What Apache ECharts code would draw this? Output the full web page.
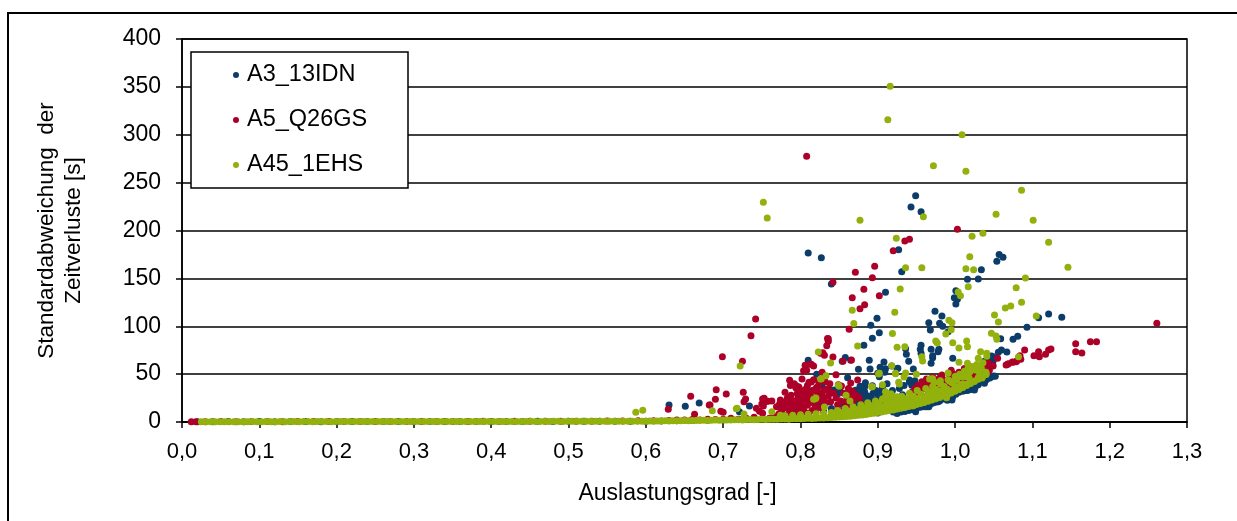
<!DOCTYPE html>
<html>
<head>
<meta charset="utf-8">
<script src="https://cdn.jsdelivr.net/npm/echarts@6/dist/echarts.min.js"></script>
<style>
  html, body { margin: 0; padding: 0; background: #fff; }
  #chart { width: 1237px; height: 521px; }
</style>
</head>
<body>
<div id="chart"></div>
<script>
// Axis ticks
const xTickLabels = ['0,0','0,1','0,2','0,3','0,4','0,5','0,6','0,7','0,8','0,9','1,0','1,1','1,2','1,3'];
const yTickValues = [0, 50, 100, 150, 200, 250, 300, 350, 400];
const seriesNames = ['A3_13IDN', 'A5_Q26GS', 'A45_1EHS'];

// A3_13IDN: low-load band and the rising part of the curve
const a3Band = [
  [0.02,0.3],[0.04,0.3],[0.06,0.4],[0.08,0.3],[0.10,0.4],[0.12,0.3],[0.14,0.4],[0.16,0.4],[0.18,0.3],[0.20,0.4],
  [0.22,0.4],[0.24,0.5],[0.26,0.4],[0.28,0.5],[0.30,0.4],[0.32,0.5],[0.34,0.5],[0.36,0.6],[0.38,0.5],[0.40,0.6],
  [0.42,0.6],[0.44,0.6],[0.46,0.7],[0.48,0.6],[0.50,0.7],[0.52,0.7],[0.54,0.8],[0.56,0.8],[0.58,0.9],[0.60,0.9],
  [0.62,1.0],[0.64,1.2],[0.66,1.5],[0.68,1.8],[0.70,2.2],[0.72,2.6],[0.74,3.0],[0.76,3.5],[0.78,4.0],[0.80,4.8],
  [0.82,5.5],[0.84,6.5],[0.86,7.5],[0.88,8.5],[0.90,9.5],[0.92,10.5],
  [0.925,9],[0.93,10.5],[0.935,11],[0.94,12],[0.945,13],[0.95,14],[0.955,15.5],[0.96,16],[0.965,18],[0.97,19.5],
  [0.975,21],[0.98,22],[0.985,24],[0.99,26],[0.995,28],[1.0,30],[1.005,31],[1.01,32],[1.015,33],[1.02,35],
  [1.025,37],[1.03,39],[1.035,42],[1.04,44],[1.045,46],[1.05,48]
];
// A3_13IDN: scattered points
const a3Cloud = [
  [0.810,176.5],[0.827,171.6],[0.840,144],[0.949,236.4],[0.943,224.5],[0.956,219.7],[0.927,180],[1.057,175],[1.062,172],[1.054,168],
  [1.034,159],[0.931,157],[1.016,149],[1.030,149.3],[0.910,135.4],[1.001,137.1],[0.999,129.8],[1.003,128.1],[1.001,123.2],[0.974,115.6],
  [0.983,110.7],[1.093,98.9],[1.108,108.9],[1.121,112.8],[1.138,109.3],[0.899,108.3],[0.891,101],[0.902,93.3],[0.893,87.4],[0.966,103.7],
  [0.968,96.1],[0.980,103.1],[0.984,99.9],[0.991,94.3],[1.059,87],[1.075,86.4],[1.081,89.6],[0.882,80.1],[0.936,76.6],[0.937,70.7],
  [0.940,63.4],[0.956,80.1],[0.955,75.9],[0.956,71.7],[0.969,75.9],[0.971,67.2],[0.978,73.4],[0.979,75.9],[0.969,61.3],[0.971,69.2],
  [0.997,66.5],[1.060,75.2],[1.056,72.8],[1.067,73.1],[1.047,68.9],[1.043,64.8],[1.049,63],[1.044,66.1],[1.049,68.2],[1.045,61.9],
  [1.038,63.4],[0.810,64.4],[0.858,67.4],[0.854,63.4],[0.865,64.4],[0.889,64.4],[0.890,55.4],[0.908,62.7],[0.910,55.7],[0.903,57.1],
  [0.918,58.5],[0.925,55.7],[0.875,55],[0.909,51.9],[0.900,50.9],[0.821,49.8],[0.861,46.3],[0.902,47.3],[0.926,56.1],[0.946,55.4],
  [0.948,43.1],[0.941,42.1],[0.944,38.3],[0.941,43.9],[0.795,37.6],[0.871,33.1],[0.878,36.9],[0.879,28.5],[0.893,37.9],[0.903,31.3],
  [0.883,36.9],[0.877,32.7],[0.897,32.7],[0.894,30],[0.890,26.8],[0.901,26.8],[0.904,28.5],[0.915,20.6],[0.926,25.8],[0.932,28.5],
  [0.936,12.5],[0.949,10.8],[0.951,17.8],[0.963,16],[0.966,16],[0.977,21.2],[0.986,27.2],[0.990,22.7],[1.001,28.9],[1.000,31.6],
  [1.005,34.5],[0.963,37.9],[0.972,34.1],[0.967,17.8],[0.972,20.2],[0.978,21.2],[0.991,27.9],[0.997,26.4],[0.996,23],[1.016,33.1],
  [1.019,33.7],[1.026,36.2],[1.016,35.2],[1.026,41],[1.025,33.4],[1.037,42.1],[1.041,44.6],[1.047,47.3],[1.052,47.7],[1.036,45.6],
  [1.038,40.4],[1.032,55],[1.037,47.3],[0.734,16.7],[0.669,19.8],[0.630,17.8],[0.651,16.4],[0.721,10.8],[0.782,21.9],[0.828,38.6],
  [0.839,33.1],[0.848,28.9],[0.844,33.4],[0.850,36.6],[0.851,32.4],[0.865,32.4],[0.859,29.2],[0.877,37.3],[0.883,31.6],[0.896,31.3],
  [0.898,32.7],[0.889,25.1],[0.886,27.5],[0.883,23],[0.869,25.8],[0.877,21.2],[0.865,21.2],[0.874,22.2],[0.890,21.2],[0.893,23.7],
  [0.821,16.7],[0.825,16],[0.79,9],[0.80,12],[0.81,8],[0.83,11],[0.84,14],[0.855,12],[0.86,16],[0.87,14],
  [0.88,17],[0.895,15],[0.905,17],[0.915,13],[0.92,16],[0.93,14],[0.94,18],[0.945,15],[0.955,20],[0.96,22],
  [0.852,19],[0.862,24],[0.871,18],[0.884,41],[0.906,36],[0.912,40],[0.919,33],[0.928,35],[0.934,38],[0.953,33]
];

// A5_Q26GS: low-load band
const a5Band = [
  [0.012,0.3],[0.018,0.3],[0.03,0.3],[0.05,0.4],[0.07,0.3],[0.09,0.4],[0.11,0.4],[0.13,0.3],[0.15,0.4],[0.17,0.4],
  [0.19,0.5],[0.21,0.4],[0.23,0.5],[0.25,0.4],[0.27,0.5],[0.29,0.5],[0.31,0.6],[0.33,0.5],[0.35,0.6],[0.37,0.6],
  [0.39,0.7],[0.41,0.6],[0.43,0.7],[0.45,0.7],[0.47,0.8],[0.49,0.8],[0.51,0.9],[0.53,0.9],[0.55,1.0],[0.57,1.1],
  [0.59,1.2],[0.61,1.3],[0.630,1.5],[0.640,2],[0.650,2],[0.660,2.5],[0.670,2],[0.680,3],[0.690,2.5],[0.700,3],
  [0.710,4],[0.720,3],[0.730,4],[0.740,5],[0.760,4],[0.765,6],[0.775,5],[0.780,6],[0.785,9],[0.790,7],
  [0.795,10],[0.800,8],[0.805,11],[0.810,9],[0.815,12],[0.820,10],[0.84,10],[0.85,12],[0.86,15],[0.87,13],
  [0.88,18],[0.89,16],[0.90,20],[0.91,22]
];
// A5_Q26GS: scattered points
const a5Cloud = [
  [0.808,277.5],[0.871,156.3],[0.842,146],[1.003,201.2],[0.941,190.8],[0.935,189],[0.920,178.9],[0.896,162.6],[0.893,150.7],[0.882,138.6],
  [0.902,131.9],[0.867,129.8],[0.883,122.5],[0.877,118.3],[0.863,96.8],[0.836,87],[0.742,107.6],[0.736,90.1],[1.261,103.1],[1.156,81.8],
  [1.156,73.4],[1.164,72.1],[1.175,83.9],[1.183,83.9],[1.102,69.2],[1.108,73.4],[1.109,68.2],[1.117,70.7],[1.121,75.2],[1.124,76.2],
  [1.090,75.2],[1.084,69.2],[1.079,63],[1.074,62.7],[1.068,60.3],[1.085,65.5],[1.080,64],[1.075,62.3],[1.069,60.9],[1.066,59.5],
  [1.055,66.5],[1.049,58.8],[1.043,61.3],[1.044,53.6],[1.029,58.5],[1.032,56.7],[1.035,59.5],[1.042,60.3],[1.044,54],[1.049,58.5],
  [1.038,55],[1.032,54.3],[1.024,53.3],[1.028,56.1],[1.019,55.4],[0.996,47.3],[1.002,48.8],[1.008,47.3],[1.016,47.3],[1.023,48.8],
  [1.022,44.9],[0.997,42.1],[1.004,45.2],[1.012,43.9],[1.019,43.9],[1.025,43.6],[1.028,45.2],[0.967,36.2],[0.972,31.6],[0.978,34.1],
  [0.987,35.8],[0.988,31],[0.974,37.6],[0.965,33.4],[0.969,36.2],[0.976,39.4],[0.981,39.7],[0.987,37.6],[0.992,38.6],[0.961,34.8],
  [0.984,33.4],[0.955,30],[0.958,36],[0.962,40],[0.968,42],[0.975,44],[0.980,46],[0.985,44],[0.990,42],[0.993,46],
  [0.998,50],[1.000,45],[1.005,52],[1.010,50],[1.015,52],[1.000,38],[0.990,30],[0.978,28],[0.950,28],[0.945,25],
  [0.940,22],[0.935,24],[0.930,20],[0.925,22],[0.920,18],
  [0.699,68.2],[0.725,63.4],[0.826,71.7],[0.829,72.4],[0.831,69.7],[0.842,67.9],[0.806,59.2],[0.812,60.3],[0.817,58.5],[0.855,63.4],
  [0.866,64.8],[0.805,53.3],[0.808,54],[0.804,53.6],[0.814,60.3],[0.831,48],[0.846,49.4],[0.874,43.9],[0.865,40.7],[0.864,31.6],
  [0.786,43.5],[0.780,31],[0.798,36.6],[0.794,35.8],[0.811,41.5],[0.814,41.8],[0.805,30.3],[0.811,31.6],[0.801,27.5],[0.796,30],
  [0.799,31.6],[0.822,36.9],[0.821,32.4],[0.834,34.1],[0.837,32.4],[0.849,39],[0.853,37.6],[0.867,32],[0.866,27.2],[0.691,33.7],
  [0.690,23.7],[0.704,29.2],[0.726,31],[0.729,24],[0.727,21.2],[0.751,24],[0.758,21.6],[0.750,18.8],[0.774,23],[0.781,21.2],
  [0.773,18.8],[0.682,17.8],[0.697,11.2],[0.700,10.1],[0.835,87.2],[0.836,84.3],[0.834,79.7],[0.658,26.8],[0.629,13.3],[0.683,17.8],
  [0.663,8],[0.743,14.3],[0.753,24.8],[0.756,21.6],[0.752,16.7],[0.763,21.9],[0.747,11.2],[0.751,9.1],[0.769,16],[0.775,12.5],
  [0.772,8.4],[0.799,28.9],[0.805,22.2],[0.818,20.9],[0.809,17.4],[0.795,16.7],[0.802,13.3],[0.791,11.2],[0.820,35.2],[0.823,37.6],
  [0.828,27.9],[0.828,51.9],[0.860,24],[0.839,21.2],[0.828,22.2],[0.785,14],[0.790,18],[0.800,20],[0.810,24],[0.783,25],
  [0.788,28],[0.792,22],[0.797,25],[0.803,19],[0.807,26],[0.813,28],[0.816,24],[0.822,27],[0.826,30],[0.830,25],
  [0.833,20],[0.787,38],[0.792,40],[0.802,45],[0.817,44],[0.824,42],
  [0.776,10],[0.779,15],[0.782,19],[0.786,22],[0.789,12],[0.793,15],[0.796,20],[0.799,24],[0.804,16],[0.806,34],
  [0.809,38],[0.812,20],[0.815,33],[0.819,17],[0.823,22],[0.827,15],[0.830,33],[0.832,42],[0.836,27],[0.838,40],
  [0.843,30],[0.846,25],[0.848,18],[0.852,22],[0.856,30],[0.858,20],[0.862,35],[0.868,22],[0.872,28],[0.876,25],
  [0.944,31],[0.948,35],[0.952,38],[0.957,42],[0.963,45],[0.971,47],[0.983,49],[0.995,54],[1.012,56],[1.006,44]
];

// A45_1EHS: low-load band and the dense rising curve
const a45Band = [
  [0.025,0.2],[0.031,0.3],[0.037,0.2],[0.043,0.3],[0.049,0.3],[0.055,0.2],[0.061,0.3],[0.067,0.3],[0.073,0.2],[0.079,0.3],
  [0.085,0.3],[0.091,0.4],[0.097,0.3],[0.103,0.3],[0.109,0.4],[0.115,0.3],[0.121,0.3],[0.127,0.4],[0.133,0.3],[0.139,0.4],
  [0.145,0.4],[0.151,0.3],[0.157,0.4],[0.163,0.4],[0.169,0.3],[0.175,0.4],[0.181,0.4],[0.187,0.4],[0.193,0.3],[0.199,0.4],
  [0.205,0.4],[0.211,0.5],[0.217,0.4],[0.223,0.4],[0.229,0.5],[0.235,0.4],[0.241,0.4],[0.247,0.5],[0.253,0.4],[0.259,0.5],
  [0.265,0.5],[0.271,0.4],[0.277,0.5],[0.283,0.5],[0.289,0.4],[0.295,0.5],[0.301,0.5],[0.307,0.5],[0.313,0.4],[0.319,0.5],
  [0.325,0.5],[0.331,0.6],[0.337,0.5],[0.343,0.5],[0.349,0.6],[0.355,0.5],[0.361,0.5],[0.367,0.6],[0.373,0.5],[0.379,0.6],
  [0.385,0.6],[0.391,0.5],[0.397,0.6],[0.403,0.6],[0.409,0.5],[0.415,0.6],[0.421,0.6],[0.427,0.6],[0.433,0.5],[0.439,0.6],
  [0.445,0.6],[0.451,0.7],[0.457,0.6],[0.463,0.6],[0.469,0.7],[0.475,0.6],[0.481,0.7],[0.487,0.7],[0.493,0.6],[0.499,0.7],
  [0.505,0.7],[0.511,0.7],[0.517,0.8],[0.523,0.7],[0.529,0.7],[0.535,0.8],[0.541,0.7],[0.547,0.8],[0.553,0.8],[0.559,0.7],
  [0.565,0.8],[0.571,0.8],[0.577,0.9],[0.583,0.8],[0.589,0.9],[0.595,0.8],
  [0.600,0.9],[0.605,1.0],[0.610,0.8],[0.615,1.1],[0.620,1.0],[0.625,1.2],[0.630,1.1],[0.635,1.3],[0.640,1.2],[0.645,1.4],
  [0.650,1.5],[0.655,1.3],[0.660,1.6],[0.665,1.5],[0.670,1.7],[0.675,1.8],[0.680,1.6],[0.685,1.9],[0.690,2.0],[0.695,1.8],
  [0.700,2.1],[0.705,2.2],[0.710,2.0],[0.715,2.3],[0.720,2.4],[0.725,2.2],[0.730,2.5],[0.735,2.6],[0.740,2.4],[0.745,2.7],
  [0.750,2.8],[0.755,2.6],[0.760,2.9],[0.765,3.0],[0.770,2.8],[0.775,3.1],[0.780,3.2],[0.785,3.0],[0.790,3.3],[0.795,3.5],
  [0.800,3.4],[0.805,3.6],[0.810,3.8],[0.815,3.7],[0.820,4.0],[0.825,4.2],[0.830,4.1],[0.835,4.4],[0.840,4.6],[0.845,4.9],
  [0.850,5.1],[0.855,5.4],[0.860,5.8],[0.865,6.1],[0.870,6.5],[0.875,7.0],[0.880,7.4],[0.885,7.9],[0.890,8.5],[0.895,9.1],
  [0.900,9.8],[0.905,10.4],[0.910,11.1],[0.915,11.9],[0.920,12.6],[0.925,13.5],[0.930,14.3],[0.935,15.2],[0.940,16.2],[0.945,17.1],
  [0.950,18.2],[0.955,19.2],[0.960,20.4],[0.965,21.6],[0.970,22.9],[0.975,24.2],[0.980,25.6],[0.985,27.1],[0.990,28.7],[0.995,30.4],
  [1.000,32.2],[1.005,34.0],[1.010,36.0],[1.015,38.0],[1.020,40.1],[1.025,42.3],[1.030,44.6],[1.035,47.0],[1.040,49.5],
  [0.78,6.5],[0.79,7],[0.80,7.5],[0.81,8],[0.82,8.6],[0.83,9.2],[0.84,9.8],[0.85,10.5],[0.86,11.5],[0.87,12.4],
  [0.88,13.6],[0.89,14.8],[0.90,16.2],[0.91,17.6],[0.92,19.2],[0.93,20.9],[0.94,22.7],[0.95,24.6],[0.96,26.8],[0.97,29.1],
  [0.98,31.6],[0.99,34.2],[1.00,37.0],[1.01,40.0],[1.02,43.2],[1.03,46.5],[1.04,50.0],
  [0.855,8.2],[0.865,9.4],[0.875,10.3],[0.885,11.8],[0.895,12.8],[0.905,14.0],[0.915,15.3],[0.925,16.8],[0.935,18.4],[0.945,20.0],
  [0.955,21.9],[0.965,24.0],[0.975,26.5],[0.985,29.2],[0.995,32.5],[1.005,35.8],[1.015,39.4],[1.025,42.8],[1.035,46.0],
  [0.842,8],[0.848,12],[0.853,9],[0.858,14],[0.862,11],[0.868,16],[0.872,13],[0.878,18],[0.882,15],[0.887,20],
  [0.892,17],[0.897,22],[0.902,19],[0.906,24],[0.912,21],[0.916,18],[0.921,24],[0.927,21],[0.931,27],[0.936,24],
  [0.941,30],[0.946,27],[0.951,33],[0.956,29],[0.962,35],[0.966,31],[0.971,37],[0.976,34],[0.981,40],[0.986,37],
  [0.991,44],[0.996,41],[1.002,44],[1.006,50],[1.012,53],[1.022,58],[1.028,60],[1.036,62]
];
// A45_1EHS: scattered points
const a45Cloud = [
  [0.916,350.6],[0.913,315.7],[1.009,300],[0.972,267.7],[1.014,262],[1.086,242],[1.053,217],[1.101,210.6],[0.959,214.4],[0.877,210.6],
  [1.022,194],[1.036,197],[0.924,192],[1.121,187.7],[1.019,172.6],[0.936,161],[0.957,161],[1.014,160],[1.024,159],[1.146,161.6],
  [0.752,229.4],[0.757,213],[1.091,150.4],[0.929,138.9],[1.004,135.8],[1.007,131.9],[1.079,140.3],[1.017,141.3],[1.086,125],[1.072,121.1],
  [1.065,119],[0.867,116.7],[0.922,114.6],[1.051,111.7],[1.056,104.4],[1.105,110.7],[0.869,103],[0.992,106.2],[0.996,103.7],[0.995,96.4],
  [0.988,91.9],[0.919,92.4],[1.047,92.6],[1.053,89.8],[1.054,86.4],[0.874,79.4],[0.925,78],[0.935,78.6],[0.975,84.6],[0.977,82.5],
  [0.997,82.8],[1.005,77.3],[1.015,84.6],[1.016,78.6],[0.957,68.2],[0.958,63.7],[1.005,62.3],[1.016,61.3],[1.017,57.1],[1.030,66.5],
  [1.033,73.4],[1.041,71.7],[1.041,68.6],[1.082,68.2],[0.722,58.5],[0.823,73.1],[0.839,61.6],[0.827,45.2],[0.826,44.9],[0.833,48.4],
  [0.918,58.8],[0.901,50.1],[0.906,39],[0.923,50.4],[0.934,47],[0.928,39.7],[0.950,49.8],[0.936,51.2],[0.927,41.5],[0.902,50.9],
  [0.893,36.9],[0.970,44.9],[0.973,41.5],[0.971,45.2],[0.981,43.1],[0.991,51.2],[1.000,47.3],[1.008,48],[1.014,47.3],[1.026,54.3],
  [1.025,55.4],[1.031,52.5],[1.034,56.1],[1.018,55],[1.019,52.2],[1.040,51.9],[1.001,47.7],[1.009,47.3],[1.018,46.3],[0.993,42.5],
  [1.007,39],[1.009,36.6],[0.973,24.8],[0.983,32.7],[0.989,25.4],[0.967,44.9],[0.686,11.8],[0.717,13.9],[0.587,10.1],[0.596,12.2],
  [0.718,14.3],[0.763,10.8],[0.727,8.4],[0.774,7],[0.817,23.7],[0.820,25.1],[0.819,24.3],[0.831,15.7],[0.850,37.3],[0.849,38.3],
  [0.859,27.9],[0.864,21.9],[0.883,14.3],[0.892,36.9],[0.910,31.6],[0.915,28.5],[0.912,28.2],[0.914,25.8],[0.909,25.4],[0.918,21.6],
  [0.924,23],[0.924,13.9],[0.938,23],[0.946,17],[0.955,20.2],[0.961,25.4],[0.960,21.2],[0.969,25.4],[0.974,28.5],[0.982,32.4],
  [0.978,27.9],[0.991,29.6],[0.970,32.4],[0.911,27.9],[0.917,29.6],[0.924,26.4],[0.923,50.9]
];

const seriesColors = ['#0b3c6a', '#ad0029', '#93b10c'];
const seriesData = [
  a3Band.concat(a3Cloud),
  a5Band.concat(a5Cloud),
  a45Band.concat(a45Cloud)
];

const FONT = '"Liberation Sans", Arial, Helvetica, sans-serif';
const chart = echarts.init(document.getElementById('chart'), null, { renderer: 'canvas' });

chart.setOption({
  animation: false,
  backgroundColor: '#fff',
  textStyle: { fontFamily: FONT, color: '#000' },
  grid: {
    left: 182, right: 50, top: 39, bottom: 99,
    show: true, borderColor: '#000', borderWidth: 1.5, backgroundColor: 'transparent'
  },
  graphic: [
    {
      type: 'rect', silent: true, z: 0,
      shape: { x: 8, y: 13, width: 1300, height: 600 },
      style: { fill: 'none', stroke: '#000', lineWidth: 2 }
    },
    {
      type: 'rect', silent: true, z: 5,
      shape: { x: 191, y: 52, width: 217, height: 136 },
      style: { fill: '#fff', stroke: '#000', lineWidth: 1.5 }
    }
  ],
  legend: {
    z: 10,
    orient: 'vertical',
    left: 233, top: 62,
    padding: 0,
    itemGap: 19,
    itemWidth: 6, itemHeight: 6,
    icon: 'circle',
    selectedMode: false,
    data: seriesNames,
    textStyle: { fontFamily: FONT, fontSize: 23.5, color: '#000', lineHeight: 26, padding: [0, 0, 0, 3] }
  },
  xAxis: {
    type: 'value',
    min: 0, max: 1.3, interval: 0.1,
    name: 'Auslastungsgrad [-]',
    nameLocation: 'middle',
    nameGap: 60,
    nameTextStyle: { fontFamily: FONT, fontSize: 23, color: '#000', padding: [0, 14, 0, 0] },
    axisLine: { show: true, onZero: false, lineStyle: { color: '#000', width: 1.5 } },
    axisTick: { show: true, inside: false, length: 6, lineStyle: { color: '#000', width: 1.5 } },
    splitLine: { show: false },
    axisLabel: {
      fontFamily: FONT, fontSize: 22, color: '#000', margin: 19,
      formatter: function (v) { return xTickLabels[Math.round(v * 10)]; }
    }
  },
  yAxis: {
    type: 'value',
    min: yTickValues[0], max: yTickValues[yTickValues.length - 1], interval: 50,
    name: 'Standardabweichung  der\nZeitverluste [s]',
    nameLocation: 'middle',
    nameGap: 95,
    nameTextStyle: { fontFamily: FONT, fontSize: 22.5, color: '#000', lineHeight: 27 },
    axisLine: { show: true, lineStyle: { color: '#000', width: 1.5 } },
    axisTick: { show: true, inside: false, length: 6, lineStyle: { color: '#000', width: 1.5 } },
    splitLine: { show: true, lineStyle: { color: '#000', width: 1.5 } },
    axisLabel: { fontFamily: FONT, fontSize: 23, color: '#000', margin: 21 }
  },
  series: seriesNames.map(function (name, i) {
    return {
      name: name,
      type: 'scatter',
      symbol: 'circle',
      symbolSize: 7,
      itemStyle: { color: seriesColors[i], opacity: 1 },
      emphasis: { disabled: true },
      data: seriesData[i]
    };
  })
});
</script>
</body>
</html>
